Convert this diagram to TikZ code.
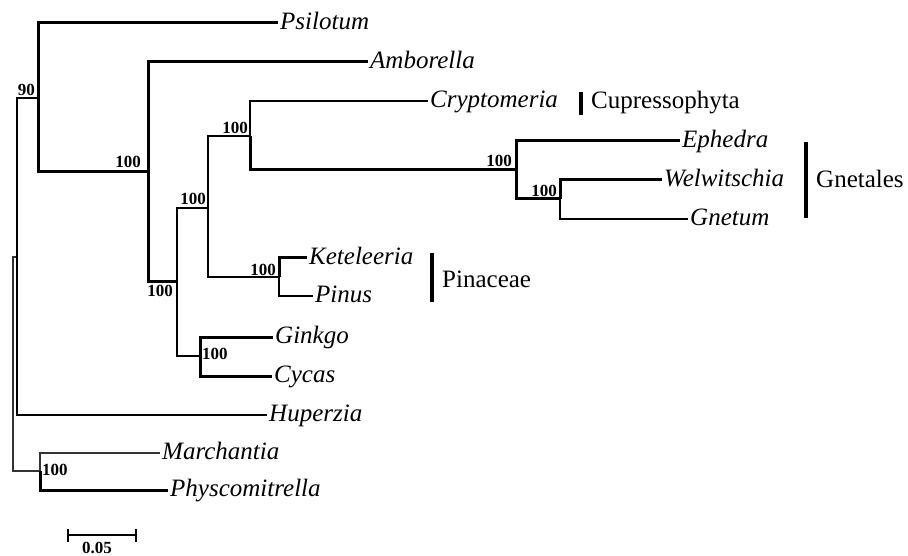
\documentclass[tikz,border=0pt]{standalone}
\usepackage{fontspec}
\setmainfont{Liberation Serif}
\usetikzlibrary{arrows.meta, positioning, calc}

\begin{document}
\begin{tikzpicture}[x=1pt, y=-1pt, line join=miter, line cap=butt]
        \tikzset{leaf/.style={anchor=west, inner xsep=2pt, inner ysep=0pt, text height=18pt, text depth=5pt,
                              font=\fontsize{25}{30}\selectfont\itshape}}
        \tikzset{bs/.style={inner sep=0pt, font=\fontsize{17}{20}\selectfont\bfseries}}
        \tikzset{clade/.style={anchor=west, inner sep=0pt, text height=18pt, text depth=5pt,
                               font=\fontsize{25}{30}\selectfont}}
        \tikzset{thk/.style={line width=3pt}, med/.style={line width=2.2pt},
                 thn/.style={line width=1.5pt, black!80}, cbar/.style={line width=4pt}}
        \useasboundingbox (0,0) rectangle (908,556);
        % internal nodes
        \coordinate (root)    at (13,364);
        \coordinate (nLand)   at (17,257);
        \coordinate (n90)     at (38,98);
        \coordinate (nSeed)   at (148,172);
        \coordinate (nGymno)  at (177,282);
        \coordinate (nConif)  at (208,208);
        \coordinate (nGnecup) at (250,136);
        \coordinate (nGnet)   at (516,170);
        \coordinate (nWelGne) at (560,199);
        \coordinate (nPin)    at (279,277);
        \coordinate (nGinCyc) at (200,356);
        \coordinate (nBryo)   at (40,471);
        % taxa
        \foreach \nm/\x/\y/\txt in {psi/278/23/Psilotum, amb/368/62/Amborella, cry/428/101/Cryptomeria,
                                    eph/680/141/Ephedra, wel/662/180/Welwitschia, gne/688/219/Gnetum,
                                    ket/307/258/Keteleeria, pin/313/296/Pinus, gin/273/337/Ginkgo,
                                    cyc/272/376/Cycas, hup/267/415/Huperzia, mar/160/453/Marchantia,
                                    phy/168/490/Physcomitrella} {
            \node[leaf] (\nm) at (\x,\y) {\txt};
        }
        % branches
        \foreach \a/\b/\s in {root/nLand/thn, root/nBryo/thn, nLand/n90/med, nLand/hup.west/med,
                              n90/psi.west/thk, n90/nSeed/thk, nSeed/amb.west/thk, nSeed/nGymno/thk,
                              nGymno/nConif/med, nGymno/nGinCyc/med, nConif/nGnecup/med, nConif/nPin/med,
                              nGnecup/cry.west/med, nGnecup/nGnet/thk, nGnet/eph.west/thk, nGnet/nWelGne/thk,
                              nWelGne/wel.west/thk, nWelGne/gne.west/med, nPin/ket.west/thk, nPin/pin.west/med,
                              nGinCyc/gin.west/thk, nGinCyc/cyc.west/thk, nBryo/mar.west/thn, nBryo/phy.west/thk} {
            \draw[\s] (\a) |- (\b);
        }
        % bootstrap values
        \node[bs, above left=2pt and 3pt of n90] (b90) {90};
        \node[bs, above left=4pt and 7pt of nSeed] (bSeed) {100};
        \node[bs, below left=3pt and 4pt of nGymno] (bGymno) {100};
        \node[bs, above left=3pt and 2pt of nConif] (bConif) {100};
        \node[bs, above left=2pt and 2pt of nGnecup] (bGnecup) {100};
        \node[bs, above left=3pt and 4pt of nGnet] (bGnet) {100};
        \node[bs, above left=2pt and 3pt of nWelGne] (bWelGne) {100};
        \node[bs, above left=1pt and 3pt of nPin] (bPin) {100};
        \node[bs, right=2pt of nGinCyc, yshift=2pt] (bGinCyc) {100};
        \node[bs, right=2pt of nBryo, yshift=1pt] (bBryo) {100};
        % clades
        \draw[cbar] (581,92) -- (581,115);
        \node[clade] (cupr) at (591,102) {Cupressophyta};
        \draw[cbar] (806,142) -- (806,218);
        \node[clade] (gnet) at (816,181) {Gnetales};
        \draw[cbar] (432,253) -- (432,302);
        \node[clade] (pina) at (442,281) {Pinaceae};
        % scale bar
        \coordinate (sbl) at (67,535);
        \coordinate (sbr) at (137,535);
        \draw[line width=2.5pt, {Bar[width=13pt, line width=2pt]}-{Bar[width=13pt, line width=2pt]}] (sbl) -- (sbr);
        \node[bs, anchor=north] (sblab) at (97,542) {0.05};
    \end{tikzpicture}
\end{document}
